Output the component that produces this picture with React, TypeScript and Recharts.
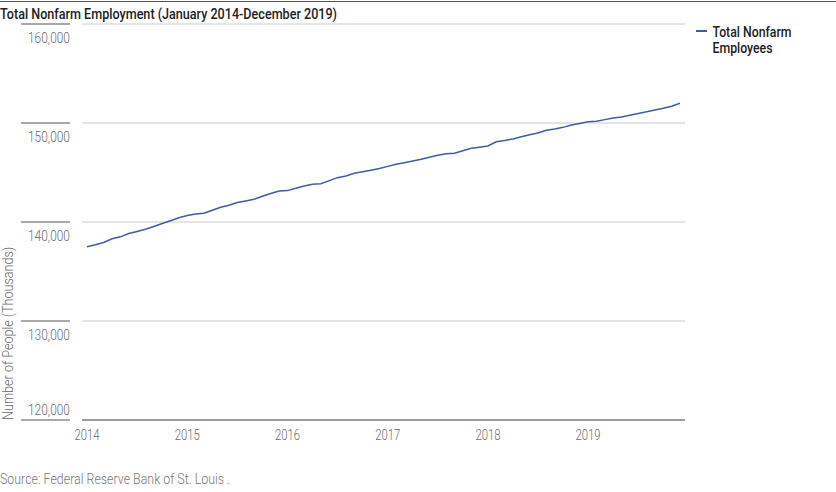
import React from 'react';
import { LineChart, Line, XAxis, YAxis, CartesianGrid } from 'recharts';

// monthly total nonfarm employees (thousands), Jan 2014 - Dec 2019
const employees = [
  137505, 137700, 137930, 138300, 138500, 138830, 139050, 139260, 139550, 139850, 140130, 140420,
  140650, 140808, 140880, 141180, 141485, 141700, 141960, 142130, 142300, 142600, 142870, 143120,
  143170, 143400, 143630, 143820, 143870, 144180, 144480, 144650, 144920, 145070, 145230, 145400,
  145620, 145830, 145990, 146160, 146340, 146550, 146750, 146900, 146940, 147200, 147450, 147560,
  147680, 148110, 148240, 148390, 148620, 148820, 149000, 149260, 149390, 149560, 149800, 149960,
  150130, 150170, 150340, 150500, 150600, 150780, 150950, 151130, 151320, 151490, 151700, 151990,
];
const years = [2014, 2015, 2016, 2017, 2018, 2019];
const yTicks = [120000, 130000, 140000, 150000, 160000];

const data = employees.map((v, i) => ({ m: i, employees: v }));
const xTicks = years.map((_, i) => i * 12);

// no condensed font installed, so text is squeezed with textLength
const FONT = 'Roboto, sans-serif';
const LINE_COLOR = '#3D5DA7';
const AXIS_TEXT = '#6b6b6b';
const DARK_LINE = '#555';

const YTick = ({ y, payload }: any) => {
  const below = payload.value !== 120000;
  return (
    <g>
      {/* short rule over the label */}
      <rect x={21} y={y - 0.5} width={49} height={1} fill={DARK_LINE} />
      <text
        x={70}
        y={below ? y + 18.5 : y - 5}
        textAnchor="end"
        fill={AXIS_TEXT}
        fontSize={15}
        fontWeight={300}
        fontFamily={FONT}
        textLength={42}
        lengthAdjust="spacingAndGlyphs"
      >
        {payload.value.toLocaleString('en-US')}
      </text>
    </g>
  );
};

const XTick = ({ x, payload }: any) => (
  <text
    x={x}
    y={440}
    textAnchor="middle"
    fill={AXIS_TEXT}
    fontSize={15}
    fontWeight={300}
    fontFamily={FONT}
    textLength={25}
    lengthAdjust="spacingAndGlyphs"
  >
    {years[payload.value / 12]}
  </text>
);

const App: React.FC = () => {
  return (
    <div style={{ position: 'absolute', left: 0, top: 0, width: 836, height: 492, background: '#fff', overflow: 'hidden' }}>
      <svg width={836} height={492} style={{ position: 'absolute', left: 0, top: 0 }}>
        <rect x={0} y={1} width={836} height={1} fill={DARK_LINE} />
        <text x={0} y={19} fill="#222" fontSize={14.5} fontWeight={500} fontFamily={FONT} textLength={337} lengthAdjust="spacingAndGlyphs">
          Total Nonfarm Employment (January 2014-December 2019)
        </text>
        <text
          transform="translate(13,420) rotate(-90)"
          fill={AXIS_TEXT}
          fontSize={14}
          fontWeight={300}
          fontFamily={FONT}
          textLength={173}
          lengthAdjust="spacingAndGlyphs"
        >
          Number of People (Thousands)
        </text>
        <text x={0} y={484} fill="#777" fontSize={14.5} fontWeight={300} fontFamily={FONT} textLength={230} lengthAdjust="spacingAndGlyphs">
          Source: Federal Reserve Bank of St. Louis .
        </text>
        {/* legend */}
        <rect x={696} y={30} width={11} height={2} fill={LINE_COLOR} />
        <g fill="#222" fontSize={15} fontWeight={500} fontFamily={FONT}>
          <text x={712.5} y={36.5} textLength={79} lengthAdjust="spacingAndGlyphs">Total Nonfarm</text>
          <text x={712.5} y={53} textLength={60} lengthAdjust="spacingAndGlyphs">Employees</text>
        </g>
      </svg>
      <LineChart width={836} height={492} data={data} margin={{ top: 24, right: 151, left: 0, bottom: 0 }}>
        <CartesianGrid vertical={false} stroke="#ccc" />
        <XAxis
          type="number"
          dataKey="m"
          domain={[-0.6, 71.6]}
          ticks={xTicks}
          height={72}
          tickLine={false}
          axisLine={{ stroke: DARK_LINE }}
          tick={<XTick />}
          interval={0}
        />
        {/* dark rule along the top of the plot */}
        <XAxis
          xAxisId="top"
          orientation="top"
          type="number"
          dataKey="m"
          domain={[-0.6, 71.6]}
          height={0}
          tick={false}
          tickLine={false}
          axisLine={{ stroke: DARK_LINE }}
        />
        <YAxis
          domain={[120000, 160000]}
          ticks={yTicks}
          width={82}
          tickLine={false}
          axisLine={false}
          tick={<YTick />}
          interval={0}
        />
        <Line
          type="linear"
          dataKey="employees"
          name="Total Nonfarm Employees"
          stroke={LINE_COLOR}
          strokeWidth={1.5}
          dot={false}
          isAnimationActive={false}
        />
      </LineChart>
    </div>
  );
};

export default App;
